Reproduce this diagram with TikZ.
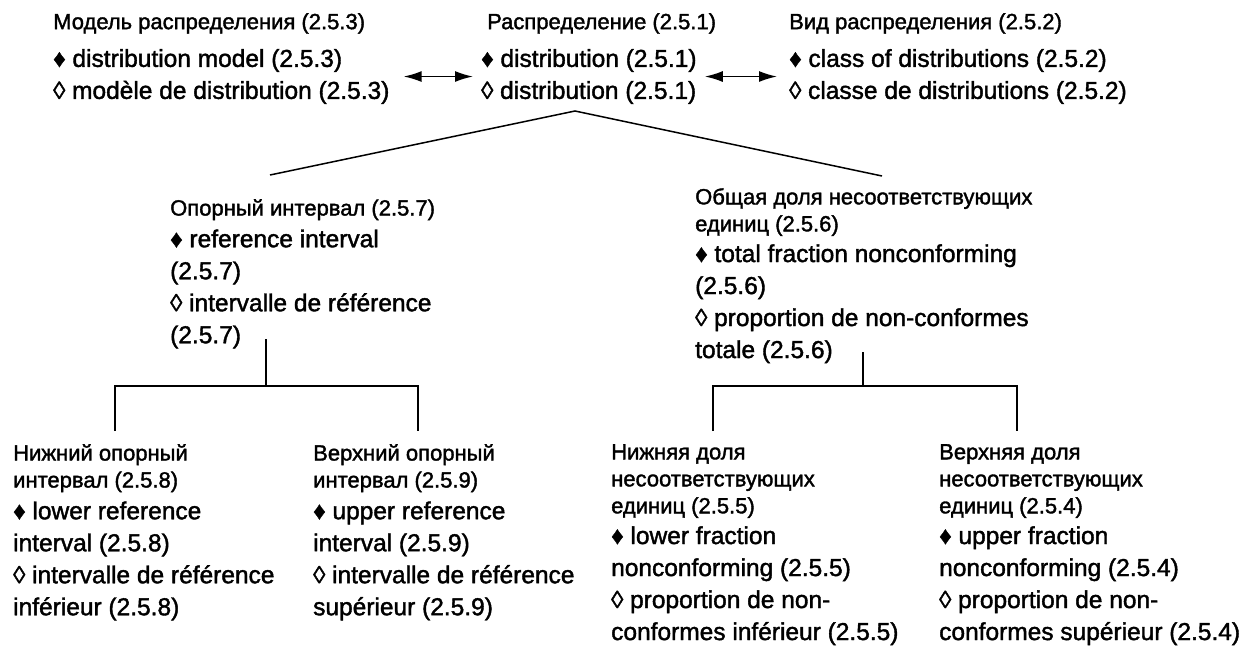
\documentclass[tikz,border=0pt]{standalone}
\usepackage{fontspec}
\setmainfont{Liberation Sans}[FakeBold=1.6]
\usetikzlibrary{arrows.meta,positioning}

\newcommand{\ruhead}{\fontsize{22}{27}\selectfont}
\newcommand{\enterm}{\fontsize{24.5}{32}\selectfont}

\tikzset{
  head/.style={font=\ruhead, align=left, inner sep=0pt, anchor=north west},
  term/.style={font=\enterm, align=left, inner sep=0pt},
  link/.style={line width=1.5pt},
  biarrow/.style={line width=1.6pt, {Latex[length=18pt,width=11pt]}-{Latex[length=18pt,width=11pt]}},
}

\begin{document}
\begin{tikzpicture}[x=1pt,y=-1pt]
\useasboundingbox (0,0) rectangle (1244,645);

% top row
\node (h_model) [head] at (53,13) {Модель распределения (2.5.3)};
\node (t_model) [term, below right=15pt and 0pt of h_model.south west] {♦ distribution model (2.5.3)\\◊ modèle de distribution (2.5.3)};
\node (h_dist) [head] at (487,13) {Распределение (2.5.1)};
\node (t_dist) [term, below right=15pt and -6pt of h_dist.south west] {♦ distribution (2.5.1)\\◊ distribution (2.5.1)};
\node (h_class) [head] at (789,13) {Вид распределения (2.5.2)};
\node (t_class) [term, below right=15pt and 0pt of h_class.south west] {♦ class of distributions (2.5.2)\\◊ classe de distributions (2.5.2)};

\draw [biarrow] ([xshift=14pt]t_model.east) -- ([xshift=-8pt]t_dist.west);
\draw [biarrow] ([xshift=8pt]t_dist.east) -- ([xshift=-12pt]t_class.west);

% second level
\node (h_ref) [head] at (170,199) {Опорный интервал (2.5.7)};
\node (t_ref) [term, below right=9pt and 0pt of h_ref.south west] {♦ reference interval\\(2.5.7)\\◊ intervalle de référence\\(2.5.7)};
\node (h_total) [head] at (695,188) {Общая доля несоответствующих\\единиц (2.5.6)};
\node (t_total) [term, below right=8pt and 0pt of h_total.south west] {♦ total fraction nonconforming\\(2.5.6)\\◊ proportion de non-conformes\\totale (2.5.6)};

\coordinate (apex) at (575,111);
\coordinate (ref_top) at (270,175);
\coordinate (total_top) at (882,176);
\draw [link] (ref_top) -- (apex) -- (total_top);

% third level
\node (h_lowref) [head] at (13,444) {Нижний опорный\\интервал (2.5.8)};
\node (t_lowref) [term, below right=9pt and 0pt of h_lowref.south west] {♦ lower reference\\interval (2.5.8)\\◊ intervalle de référence\\inférieur (2.5.8)};
\node (h_upref) [head] at (313,444) {Верхний опорный\\интервал (2.5.9)};
\node (t_upref) [term, below right=9pt and 0pt of h_upref.south west] {♦ upper reference\\interval (2.5.9)\\◊ intervalle de référence\\supérieur (2.5.9)};
\node (h_lowfr) [head] at (611,444) {Нижняя доля\\несоответствующих\\единиц (2.5.5)};
\node (t_lowfr) [term, below right=8pt and 0pt of h_lowfr.south west] {♦ lower fraction\\nonconforming (2.5.5)\\◊ proportion de non-\\conformes inférieur (2.5.5)};
\node (h_upfr) [head] at (939,444) {Верхняя доля\\несоответствующих\\единиц (2.5.4)};
\node (t_upfr) [term, below right=8pt and 0pt of h_upfr.south west] {♦ upper fraction\\nonconforming (2.5.4)\\◊ proportion de non-\\conformes supérieur (2.5.4)};

% brackets
\coordinate (ref_fork) at (266,386);
\coordinate (total_fork) at (863,386);
\draw [link] (266,339) -- (ref_fork);
\draw [link] (115,431) |- (ref_fork) -| (418,431);
\draw [link] (863,352) -- (total_fork);
\draw [link] (713,431) |- (total_fork) -| (1017,431);

\end{tikzpicture}
\end{document}
